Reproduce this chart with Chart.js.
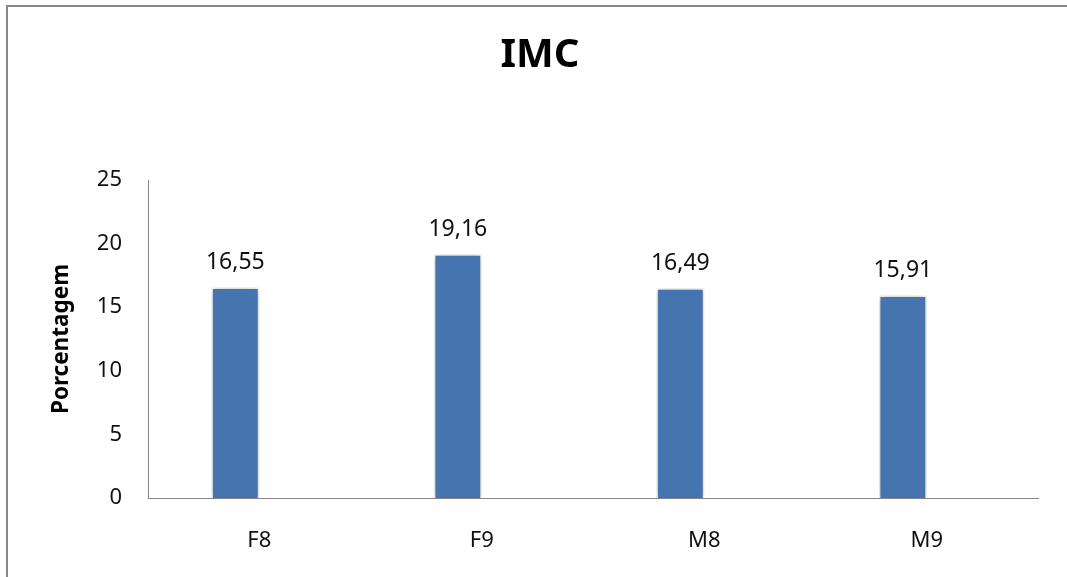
<!DOCTYPE html>
<html>
<head>
<meta charset="utf-8">
<title>IMC</title>
<script src="https://cdn.jsdelivr.net/npm/chart.js@4"></script>
<style>
    html, body { margin: 0; padding: 0; background: #fff; overflow: hidden; }
    canvas { display: block; }
</style>
</head>
<body>
<canvas id="imcChart" width="1067" height="577"></canvas>
<script>

// ----------------------------------------------------------
// Data
// ----------------------------------------------------------

const grupos = ["F8", "F9", "M8", "M9"];

const imcValores = [16.55, 19.16, 16.49, 15.91];

// second series of the sheet is empty, it only keeps the slot
const serieVazia = [null, null, null, null];

const yTicks = [0, 5, 10, 15, 20, 25];

const FONT = "'Noto Sans', 'Open Sans', sans-serif";

// ----------------------------------------------------------
// Plugins
// ----------------------------------------------------------

// sheet frame (top and left edges) and the title centred on it
const sheetFrame = {
    id: "sheetFrame",
    beforeDraw(chart){
        const ctx = chart.ctx;
        ctx.save();
        ctx.strokeStyle = "#888";
        ctx.lineWidth = 2;
        ctx.beginPath();
        ctx.moveTo(7, chart.height);
        ctx.lineTo(7, 6);
        ctx.lineTo(chart.width, 6);
        ctx.stroke();
        ctx.restore();
    },
    afterDraw(chart){
        const ctx = chart.ctx;
        ctx.save();
        ctx.font = "bold 40px " + FONT;
        ctx.fillStyle = "#000";
        ctx.textAlign = "center";
        ctx.textBaseline = "middle";
        ctx.fillText("IMC", 540, 56);
        ctx.restore();
    }
};

// soft shadow round the bars
const barShadow = {
    id: "barShadow",
    beforeDatasetDraw(chart, args){
        if (args.index !== 0) return;
        const ctx = chart.ctx;
        ctx.save();
        ctx.shadowColor = "rgba(0,0,0,0.28)";
        ctx.shadowBlur = 6;
        ctx.shadowOffsetX = 0;
        ctx.shadowOffsetY = 0;
    },
    afterDatasetDraw(chart, args){
        if (args.index !== 0) return;
        chart.ctx.restore();
    }
};

// value written above each bar, with decimal comma
const valueLabels = {
    id: "valueLabels",
    afterDatasetsDraw(chart){
        const ctx = chart.ctx;
        const meta = chart.getDatasetMeta(0);
        ctx.save();
        ctx.font = "23px " + FONT;
        ctx.fillStyle = "#111";
        ctx.textAlign = "center";
        ctx.textBaseline = "middle";
        meta.data.forEach((bar, i) => {
            const v = imcValores[i];
            ctx.fillText(v.toFixed(2).replace(".", ","), bar.x, bar.y - 25);
        });
        ctx.restore();
    }
};

// ----------------------------------------------------------
// Chart
// ----------------------------------------------------------

new Chart(document.getElementById("imcChart"), {
    type: "bar",
    data: {
        labels: grupos,
        datasets: [
            {
                label: "IMC",
                data: imcValores,
                backgroundColor: "#4674AF",
                borderColor: "#ffffff",
                borderWidth: 1.5,
                barPercentage: 1.0,
                categoryPercentage: 0.43
            },
            {
                label: "",
                data: serieVazia,
                backgroundColor: "#4674AF",
                barPercentage: 1.0,
                categoryPercentage: 0.43
            }
        ]
    },
    options: {
        responsive: false,
        animation: false,
        devicePixelRatio: 1,
        layout: {
            padding: { left: 0, right: 29, top: 180, bottom: 0 }
        },
        plugins: {
            legend: { display: false },
            tooltip: { enabled: false },
            title: { display: false }
        },
        scales: {
            x: {
                afterFit(scale){
                    scale.height = 79;
                },
                grid: { display: false, drawTicks: false },
                border: { display: true, color: "#868686", width: 1 },
                ticks: {
                    color: "#111",
                    padding: 30,
                    font: { family: FONT, size: 22 }
                }
            },
            y: {
                min: 0,
                max: 25,
                afterBuildTicks(scale){
                    scale.ticks = yTicks.map(v => ({ value: v }));
                },
                afterFit(scale){
                    scale.width = 148;
                },
                grid: { display: false, drawTicks: false },
                border: { display: true, color: "#868686", width: 1 },
                ticks: {
                    color: "#111",
                    padding: 26,
                    font: { family: FONT, size: 22 }
                },
                title: {
                    display: true,
                    text: "Porcentagem",
                    color: "#000",
                    font: { family: FONT, size: 22.5, weight: "bold", lineHeight: 1.2 },
                    padding: { top: 48, bottom: 0 }
                }
            }
        }
    },
    plugins: [sheetFrame, barShadow, valueLabels]
});

</script>
</body>
</html>
